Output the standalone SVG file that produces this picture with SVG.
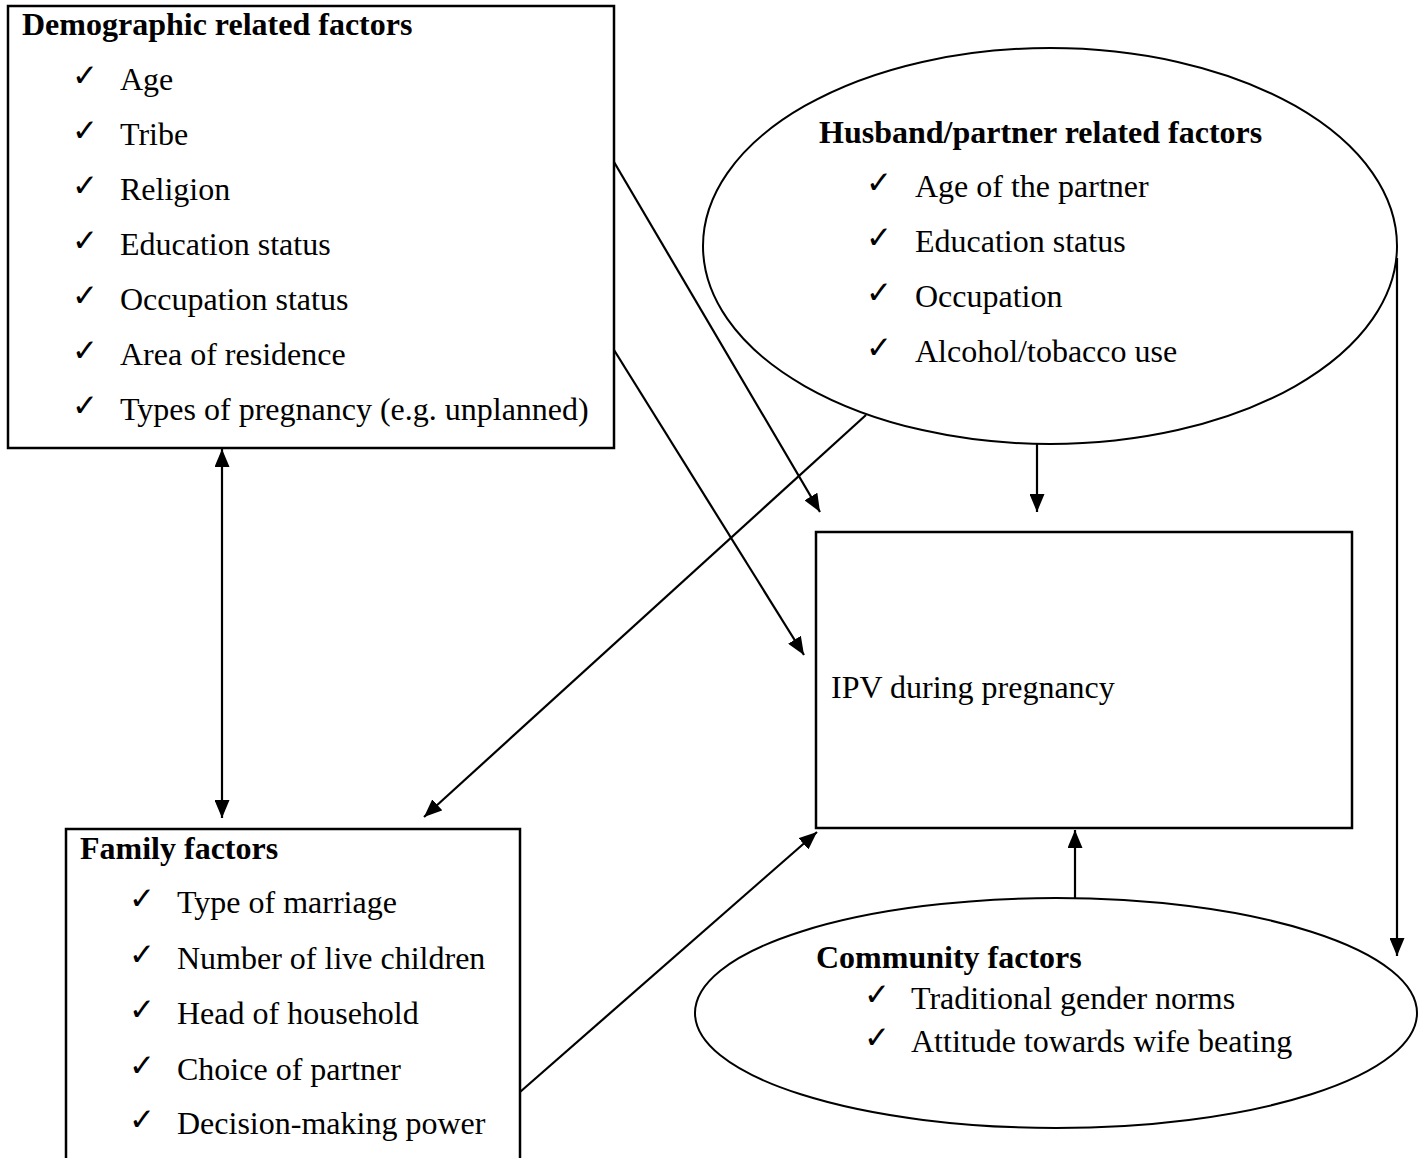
<svg xmlns="http://www.w3.org/2000/svg" width="1428" height="1158" viewBox="0 0 1428 1158">
<defs>
<marker id="ah" markerUnits="userSpaceOnUse" markerWidth="19" markerHeight="15" viewBox="0 0 19 15" refX="18" refY="7.5" orient="auto-start-reverse">
<path d="M0,0 L18,7.5 L0,15 z" fill="#000"/>
</marker>
<style>
.box{fill:#fff;stroke:#000;stroke-width:2.5}
.ell{fill:#fff;stroke:#000;stroke-width:2}
.t{font-family:"Liberation Serif","Times New Roman",serif;font-size:32px;fill:#000}
.b{font-weight:bold}
.ck{font-family:"DejaVu Sans",sans-serif;font-size:31px;fill:#000}
.c{stroke:#000;stroke-width:2.2;fill:none;marker-end:url(#ah)}
</style>
</defs>
<rect width="1428" height="1158" fill="#fff"/>

<g id="demographic">
<rect class="box" x="8" y="6" width="606" height="442"/>
<text class="t b" x="22" y="35">Demographic related factors</text>
<text class="ck" x="72" y="86">✓</text><text class="t" x="120" y="90">Age</text>
<text class="ck" x="72" y="141">✓</text><text class="t" x="120" y="145">Tribe</text>
<text class="ck" x="72" y="196">✓</text><text class="t" x="120" y="200">Religion</text>
<text class="ck" x="72" y="251">✓</text><text class="t" x="120" y="255">Education status</text>
<text class="ck" x="72" y="306">✓</text><text class="t" x="120" y="310">Occupation status</text>
<text class="ck" x="72" y="361">✓</text><text class="t" x="120" y="365">Area of residence</text>
<text class="ck" x="72" y="416">✓</text><text class="t" x="120" y="420">Types of pregnancy (e.g. unplanned)</text>
</g>

<g id="husband">
<ellipse class="ell" cx="1050" cy="246" rx="347" ry="198"/>
<text class="t b" x="819" y="143">Husband/partner related factors</text>
<text class="ck" x="866" y="193">✓</text><text class="t" x="915" y="197">Age of the partner</text>
<text class="ck" x="866" y="248">✓</text><text class="t" x="915" y="252">Education status</text>
<text class="ck" x="866" y="303">✓</text><text class="t" x="915" y="307">Occupation</text>
<text class="ck" x="866" y="358">✓</text><text class="t" x="915" y="362">Alcohol/tobacco use</text>
</g>

<g id="ipv">
<rect class="box" x="816" y="532" width="536" height="296"/>
<text class="t" x="831" y="698">IPV during pregnancy</text>
</g>

<g id="community">
<ellipse class="ell" cx="1056" cy="1013" rx="361" ry="115"/>
<text class="t b" x="816" y="968">Community factors</text>
<text class="ck" x="864" y="1005">✓</text><text class="t" x="911" y="1009">Traditional gender norms</text>
<text class="ck" x="864" y="1048">✓</text><text class="t" x="911" y="1052">Attitude towards wife beating</text>
</g>

<g id="family">
<rect class="box" x="66" y="829" width="454" height="360"/>
<text class="t b" x="80" y="859">Family factors</text>
<text class="ck" x="129" y="909">✓</text><text class="t" x="177" y="913">Type of marriage</text>
<text class="ck" x="129" y="965">✓</text><text class="t" x="177" y="969">Number of live children</text>
<text class="ck" x="129" y="1020">✓</text><text class="t" x="177" y="1024">Head of household</text>
<text class="ck" x="129" y="1076">✓</text><text class="t" x="177" y="1080">Choice of partner</text>
<text class="ck" x="129" y="1130">✓</text><text class="t" x="177" y="1134">Decision-making power</text>
</g>

<g id="connectors">
<line class="c" x1="614" y1="162" x2="820" y2="512"/>
<line class="c" x1="614" y1="350" x2="804" y2="655"/>
<line class="c" x1="866" y1="415" x2="424" y2="817"/>
<line class="c" x1="520" y1="1092" x2="817" y2="832"/>
<line class="c" x1="1037" y1="444" x2="1037" y2="512"/>
<line class="c" x1="1397" y1="258" x2="1397" y2="956"/>
<line class="c" x1="1075" y1="898" x2="1075" y2="830"/>
<line class="c" x1="222" y1="449" x2="222" y2="818" style="marker-start:url(#ah)"/>
</g>
</svg>
